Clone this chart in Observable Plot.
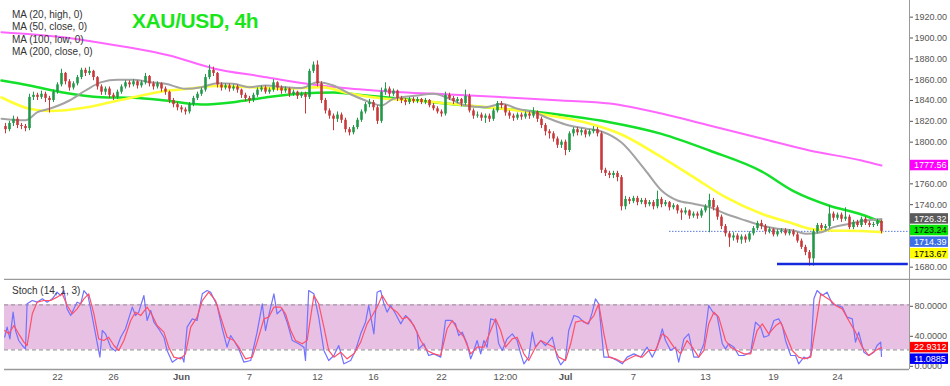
<!DOCTYPE html>
<html>
<head>
<meta charset="utf-8">
<script src="https://cdn.jsdelivr.net/npm/d3@7"></script>
<script src="https://cdn.jsdelivr.net/npm/@observablehq/plot@0.6"></script>
<style>
html, body { margin: 0; padding: 0; background: #fff; }
#wrap { position: relative; width: 950px; height: 386px; overflow: hidden; font-family: "Liberation Sans", Arial, sans-serif; }
#wrap svg { display: block; }
.legend { position: absolute; left: 12px; top: 9px; font-size: 10px; line-height: 12.4px; color: #333; white-space: pre; }
.title { position: absolute; left: 132px; top: 10px; font: bold 21px/21px "Liberation Sans", Arial, sans-serif; letter-spacing: -0.4px; color: #19e619; white-space: pre; }
.stochlbl { position: absolute; left: 12px; top: 285px; font-size: 10px; line-height: 12.4px; color: #333; white-space: pre; }
</style>
</head>
<body>
<div id="wrap"></div>
<script>
// ---------------- DATA ----------------
const firstOpen = 1815;
const closes = [
1812,1818,1822,1816,1815,1813,1843,1845,1843,1846,
1842,1840,1848,1855,1866,1858,1852,1856,1862,1869,
1866,1868,1862,1853,1848,1851,1845,1843,1848,1853,
1857,1855,1858,1854,1857,1863,1856,1853,1856,1851,
1848,1840,1836,1833,1831,1829,1836,1842,1846,1850,
1862,1869,1866,1855,1852,1854,1851,1853,1850,1845,
1842,1840,1845,1850,1852,1848,1850,1857,1852,1849,
1851,1846,1848,1844,1846,1843,1868,1874,1856,1840,
1830,1825,1822,1826,1821,1812,1809,1814,1821,1829,
1836,1838,1833,1820,1848,1851,1846,1849,1842,1840,
1838,1841,1839,1841,1838,1840,1835,1832,1829,1827,
1845,1842,1839,1841,1837,1844,1830,1825,1826,1823,
1825,1822,1830,1837,1835,1828,1825,1823,1826,1824,
1827,1825,1829,1822,1816,1810,1808,1803,1797,1800,
1792,1808,1812,1809,1811,1807,1810,1812,1808,1773,
1770,1768,1770,1766,1738,1745,1743,1746,1742,1744,
1740,1742,1738,1745,1740,1742,1737,1739,1734,1732,
1734,1729,1731,1729,1734,1738,1744,1737,1728,1719,
1712,1708,1710,1706,1709,1706,1712,1717,1722,1719,
1714,1716,1711,1714,1715,1712,1714,1711,1705,1699,
1694,1688,1714,1720,1717,1719,1731,1727,1730,1726,
1728,1718,1723,1720,1726,1722,1720,1721,1724,1714.39];
const highs = [
1818,1820,1825,1824,1818,1817,1846,1848,1847,1849,
1848,1844,1850,1857,1870,1867,1860,1858,1864,1871,
1871,1872,1869,1863,1855,1853,1853,1847,1850,1855,
1859,1859,1860,1859,1859,1866,1864,1858,1858,1857,
1853,1849,1842,1838,1835,1833,1838,1844,1848,1852,
1865,1874,1872,1867,1857,1856,1856,1855,1855,1851,
1847,1844,1847,1852,1854,1854,1852,1860,1858,1854,
1853,1852,1850,1849,1848,1848,1870,1877,1878,1858,
1842,1832,1827,1829,1828,1823,1814,1816,1823,1831,
1838,1841,1840,1835,1852,1857,1853,1851,1850,1844,
1842,1843,1843,1843,1842,1842,1841,1837,1834,1831,
1848,1847,1844,1843,1842,1850,1846,1832,1829,1828,
1827,1827,1832,1839,1839,1836,1830,1827,1828,1828,
1829,1829,1833,1830,1824,1818,1812,1810,1805,1802,
1802,1810,1814,1814,1813,1812,1812,1815,1814,1810,
1775,1772,1772,1772,1768,1748,1747,1748,1748,1746,
1746,1744,1744,1753,1747,1744,1743,1741,1740,1736,
1737,1735,1733,1733,1736,1740,1750,1746,1739,1730,
1721,1714,1713,1712,1711,1711,1714,1719,1724,1725,
1721,1718,1717,1716,1717,1717,1716,1716,1713,1707,
1701,1696,1716,1722,1722,1721,1739,1733,1732,1732,
1737,1730,1725,1725,1728,1728,1724,1723,1726,1725];
const lows = [
1808,1810,1815,1813,1812,1810,1811,1840,1840,1841,
1838,1828,1838,1846,1853,1855,1849,1850,1854,1860,
1863,1864,1859,1850,1845,1845,1842,1840,1841,1846,
1851,1852,1853,1851,1852,1855,1853,1850,1851,1848,
1845,1837,1833,1830,1828,1826,1827,1834,1840,1844,
1848,1860,1863,1852,1849,1850,1848,1849,1847,1842,
1839,1837,1838,1843,1848,1846,1846,1848,1849,1846,
1847,1843,1844,1841,1842,1827,1841,1866,1853,1837,
1827,1822,1811,1819,1818,1809,1806,1807,1812,1819,
1827,1833,1830,1817,1818,1845,1843,1844,1839,1837,
1835,1836,1837,1837,1836,1836,1833,1830,1827,1824,
1825,1840,1836,1837,1834,1835,1828,1822,1823,1820,
1818,1819,1820,1828,1832,1825,1822,1820,1821,1821,
1822,1822,1823,1819,1813,1806,1803,1800,1794,1794,
1787,1790,1805,1806,1806,1804,1805,1808,1805,1770,
1767,1765,1765,1762,1734,1735,1740,1741,1739,1740,
1737,1738,1735,1736,1737,1738,1734,1735,1731,1725,
1730,1726,1727,1726,1727,1732,1713,1734,1725,1716,
1709,1699,1705,1703,1702,1703,1704,1710,1715,1716,
1711,1712,1709,1709,1712,1710,1710,1709,1703,1697,
1691,1681,1681,1712,1715,1715,1717,1724,1725,1723,
1724,1716,1716,1718,1718,1720,1718,1718,1719,1712];

// moving averages: [candle index, value]
const ma200Close = [[-1,1905.6],[7,1903.4],[16,1900],[21,1897.1],[31,1890.9],[41,1883.2],[52,1870.8],[64,1863.1],[74,1856.8],[86,1851.5],[99,1848],[111,1845.8],[124,1843.2],[139,1840],[151,1837.1],[164,1827.5],[176,1816],[189,1803.5],[201,1792],[214,1782.4],[219,1777.56]];
const ma100Low = [[-1,1859.2],[6,1854.4],[14,1848],[24,1843.2],[32,1842.6],[40,1840],[49,1836.2],[57,1838.4],[65,1842.9],[74,1846.7],[82,1847.7],[90,1844.8],[99,1841.7],[107,1838.4],[115,1835.2],[124,1832],[132,1829.5],[140,1825.6],[151,1819.2],[164,1808],[176,1792],[189,1772],[197,1753],[206,1739],[214,1730.6],[219,1723.24]];
const ma50Close = [[-1,1842.9],[6,1832.1],[11,1829.9],[20,1833.3],[26,1838.1],[32,1843.2],[40,1849.1],[46,1851.3],[52,1853.9],[61,1852.8],[70,1851.3],[79,1852.8],[86,1846.8],[95,1841.7],[103,1840],[111,1836.9],[120,1833.6],[128,1830.4],[136,1825.6],[145,1818.9],[154,1807.4],[164,1785.6],[172,1766.4],[180,1747.2],[189,1731.3],[197,1721.7],[201,1716.9],[206,1715.2],[214,1714.7],[219,1713.67]];
const ma20High = [[-1,1822.5],[5,1821],[8,1828.8],[11,1832.1],[16,1840],[20,1849.6],[24,1857.6],[28,1859.9],[32,1859.9],[36,1857.6],[40,1856],[45,1851.3],[49,1852.8],[53,1856.6],[57,1856],[61,1852.8],[65,1854.4],[70,1852.8],[74,1852],[78,1857.6],[82,1854.4],[86,1846.5],[90,1840],[94,1835.2],[97,1841.7],[103,1844.8],[107,1846.5],[111,1841.7],[115,1835.2],[120,1833.6],[124,1836.9],[128,1832.1],[132,1828.8],[136,1822.5],[140,1817],[145,1813.1],[149,1810.3],[154,1799.7],[160,1772.8],[164,1753.6],[168,1744],[172,1740.9],[176,1737.6],[180,1731.3],[185,1724.8],[189,1720],[193,1716.9],[197,1715.2],[200,1712.1],[204,1713.6],[207,1718.4],[211,1721.7],[215,1724.8],[219,1726.32]];

// stochastic (14,1,3): [candle index, value]
const stochK = [[-0.2,36.8],[0.4,50.2],[1.1,34.6],[1.9,70.2],[2.5,45.7],[3.3,32.4],[4.2,25.7],[5,21.3],[5.4,81.3],[6.7,85.7],[7.9,83.5],[9.2,88],[10.4,83.5],[11.7,88],[12.9,96.8],[13.8,92.4],[14.6,99],[15.4,74.6],[16.3,65.7],[17.1,74.6],[17.9,83.5],[18.8,81.3],[19.6,99],[20.6,92.4],[21.3,74.6],[22.5,41.3],[23.6,10.2],[24.2,45.7],[25,41.3],[26.3,23.5],[27.5,18.2],[28.8,36.8],[30,48],[31.7,76.9],[32.5,65.7],[33.3,70.2],[34.6,92.4],[35.4,59.1],[36.3,72.4],[37.1,56.8],[38.3,48],[39.6,36.8],[40.4,19.1],[41.7,3.5],[42.9,8],[44.2,10.2],[44.6,3.5],[45.4,50.2],[46.7,61.3],[47.9,59.1],[49.2,94.6],[50.4,99],[51.3,96.8],[52.9,79.1],[54.2,48],[55.4,23.5],[56.3,39],[57.1,32.4],[58.3,21.3],[59.6,3.5],[61.3,5.7],[62.9,43.5],[64.2,81.3],[65,45.7],[65.8,65.7],[67.1,94.6],[67.9,68],[69.2,74.6],[70.4,56.8],[71.7,32.4],[73.3,28],[74.6,23.5],[75,5.7],[75.8,99],[77.1,94.6],[78.3,63.5],[79.6,19.1],[80.8,5.7],[82.1,12.4],[83.3,25.7],[84.6,1.3],[86.3,5.7],[87.5,19.1],[88.8,41.3],[90,56.8],[90.8,79.1],[92.1,41.3],[92.9,96.8],[93.8,99],[94.6,81.3],[95.4,70.2],[96.3,79.1],[97.5,68],[98.8,54.6],[100,65.7],[101.3,59.1],[102.9,43.5],[103.3,21.3],[104.6,28],[105.8,12.4],[107.1,14.6],[108.8,10.2],[110,59.1],[111.3,59.1],[112.5,54.6],[113.3,39],[114.2,43.5],[115.4,28],
[116.3,8],[117.1,19.1],[117.9,32.4],[118.8,14.6],[119.6,32.4],[120.4,23.5],[121.3,61.3],[122.5,59.1],[123.3,28],[124.2,19.1],[125.4,34.6],[126.7,41.3],[127.9,32.4],[128.8,14.6],[129.6,1.3],[130.8,10.2],[131.7,43.5],[132.5,23.5],[133.8,32.4],[135,25.7],[136.7,36.8],[137.9,10.2],[138.8,0],[140,8],[140.8,45.7],[142.1,65.7],[143.3,63.5],[144.6,56.8],[145.8,54.6],[146.7,70.2],[147.5,88],[148.3,81.3],[149.6,10.2],[151.3,10.2],[152.9,5.7],[154.2,1.3],[155.4,10.2],[157.1,14.6],[158.8,10.2],[160.4,23.5],[161.7,10.2],[162.9,23.5],[164.2,48],[165,32.4],[166.3,19.1],[167.5,23.5],[168.3,3.5],[169.6,34.6],[170.8,41.3],[172.1,10.2],[173.3,10.2],[174.6,28],[175.8,79.1],[177.1,68],[177.9,65.7],[179.2,28],[180,21.3],[180.8,28],[182.1,23.5],[183.3,12.4],[184.6,12.4],[186.3,16.8],[187.5,56.8],[188.8,50.2],[189.6,36.8],[190.8,39],[192.1,59.1],[193.3,61.3],[194.2,52.4],[195,32.4],[196.3,12.4],[197.5,12.4],[198.3,1.3],[199.6,10.2],[200.4,8],[201.3,12.4],[202.1,88],[202.9,99],[204.2,92.4],[205.4,96.8],[206.7,81.3],[207.9,79.1],[209.2,76.9],[210.4,63.5],[211.7,61.3],[212.5,30.2],[213.3,43.5],[214.6,16.8],[215.8,12.4],[217.1,16.8],[217.9,25.7],[218.8,30.2],[219,11.0885]];
const stochD = [[-0.2,45.7],[0.8,41.3],[2.1,52.4],[3.3,41.3],[4.6,30.2],[5.4,25.7],[6.7,68],[7.9,83.5],[9.6,85.7],[11.3,85.7],[12.9,90.2],[14.2,94.6],[15.4,79.1],[16.7,68],[17.9,74.6],[19.6,88],[20.8,94.6],[22.1,68],[23.3,34.6],[24.6,32.4],[25.8,36.8],[27.1,25.7],[28.3,19.1],[29.6,32.4],[31.3,59.1],[32.5,70.2],[33.8,65.7],[35.4,76.9],[36.7,65.7],[37.9,52.4],[39.6,43.5],[40.8,23.5],[42.1,10.2],[43.8,8],[45,14.6],[46.3,50.2],[47.9,63.5],[49.2,85.7],[50.8,96.8],[52.5,85.7],[53.8,63.5],[55.4,36.8],[57.1,32.4],[58.3,23.5],[60,8],[61.7,10.2],[62.9,30.2],[64.6,61.3],[65.8,63.5],[67.1,76.9],[68.8,76.9],[70,68],[71.3,45.7],[72.5,32.4],[74.2,28],[75.4,32.4],[77.1,92.4],[78.3,81.3],[79.6,50.2],[80.8,19.1],[82.1,10.2],[83.8,16.8],[85.4,8],[87.1,14.6],[88.8,30.2],[90.4,54.6],[91.7,65.7],[92.9,76.9],[94.2,92.4],[95.4,81.3],[96.7,74.6],[97.9,70.2],[99.2,61.3],[100.4,63.5],[102.1,52.4],[103.8,32.4],[105.4,19.1],[107.1,14.6],[108.8,12.4],[110.4,48],[111.7,59.1],[112.9,48],[114.6,36.8],
[116.3,14.6],[117.9,23.5],[119.6,23.5],[121.3,45.7],[122.5,61.3],[123.8,45.7],[125,23.5],[126.7,34.6],[127.9,36.8],[129.6,14.6],[130.8,5.7],[132.5,23.5],[133.8,32.4],[135.4,28],[137.1,23.5],[138.3,10.2],[140,5.7],[141.3,28],[142.5,56.8],[144.2,59.1],[145.4,54.6],[147.1,65.7],[148.3,81.3],[149.6,41.3],[150.8,10.2],[152.5,8],[154.2,3.5],[155.8,8],[157.5,12.4],[159.2,10.2],[160.8,19.1],[162.5,19.1],[164.2,41.3],[165.4,36.8],[167.1,23.5],[168.8,14.6],[170.4,32.4],[171.7,23.5],[173.3,10.2],[174.6,19.1],[175.8,54.6],[177.1,70.2],[178.3,63.5],[180,32.4],[181.3,23.5],[182.9,19.1],[184.6,14.6],[186.3,14.6],[187.9,45.7],[189.2,54.6],[190.8,41.3],[192.5,52],[193.8,56.8],[195,41.3],[196.7,19.1],[198.3,10.2],[199.6,8],[201.3,10.2],[202.5,50.2],[203.8,94.6],[205,90.2],[206.3,85.7],[207.5,79.1],[209.2,74.6],[210.8,59.1],[212.5,43.5],[214.2,23.5],[215.8,12.4],[217.5,19.1],[219,22.9312]];

const priceTicks = [1680,1700,1720,1740,1760,1780,1800,1820,1840,1860,1880,1900,1920];
const stochTicks = [0,40,80];
const stochLevels = [20,80];
const tickIdx = [13,27,44,61,78,92,109,125,140,157,175,192,208];
const tickLabels = ["22","26","Jun","7","12","16","22","12:00","Jul","7","13","19","24"];
const monthLabels = ["Jun","Jul"];
const priceTags = [1777.56, 1726.32, 1723.24, 1714.39, 1713.67];
const priceTagFill = ["#ff00ff","#5a5a5a","#00e600","#3d70e6","#ffff00"];
const priceTagInk = ["#ffffff","#ffffff","#000000","#ffffff","#000000"];
const stochTags = [22.9312, 11.0885];
const stochTagFill = ["#ff0000","#0000f5"];
const stochTagInk = ["#ffffff","#ffffff"];
const supportLevel = 1683;
const supportStartIdx = 193;
const bidLineStartIdx = 166;
const legendLines = ["MA (20, high, 0)","MA (50, close, 0)","MA (100, low, 0)","MA (200, close, 0)"];
const titleText = "XAU/USD, 4h";
const stochTitle = "Stoch (14, 1, 3)";

// ---------------- LAYOUT ----------------
const W = 950, MR = 41;
const xDomain = [-1.25, 226];
const mainH = 280, yDomain = [1667.2, 1936];
const stochH = 106, stochMB = 17, sDomain = [-6.27, 112.4];
const xs = d3.scaleLinear(xDomain, [0, W - MR]);
const ys = d3.scaleLinear(yDomain, [mainH, 0]);
const ss = d3.scaleLinear(sDomain, [stochH - stochMB, 0]);
const axisIdx = xDomain[1];
const leftIdx = xs.invert(4), farIdx = xs.invert(W);
const tagX1 = xs.invert(910), tagX2 = xs.invert(948), tagTx = xs.invert(913.5);

function layoutTags(values, scale, h, gap) {
  const order = values.map((v, i) => i).sort((a, b) => values[b] - values[a]);
  const pos = [];
  let prev = -Infinity;
  for (const i of order) { const p = Math.max(scale(values[i]), prev + gap); pos[i] = p; prev = p; }
  return values.map((v, i) => ({ v, i, px: pos[i], yc: scale.invert(pos[i]), y1: scale.invert(pos[i] - h / 2), y2: scale.invert(pos[i] + h / 2) }));
}

const GREEN = "#22994a", RED = "#c8383a";
const candles = closes.map((c, i) => ({ i, o: i === 0 ? firstOpen : closes[i - 1], c, h: highs[i], l: lows[i] }));
const cc = d => (d.c >= d.o ? GREEN : RED);
const pt = arr => arr.map(([x, y]) => ({ x, y }));

const mTags = layoutTags(priceTags, ys, 10.5, 11.6);
const sTags = layoutTags(stochTags, ss, 10.5, 11.6);
// tick labels that sit under a price tag are hidden, as in the reference
const shownPriceTicks = priceTicks.filter(t => mTags.every(g => Math.abs(ys(t) - g.px) > 9));

const baseStyle = { fontFamily: "Liberation Sans, Arial, sans-serif", fontSize: "9px", color: "#555", background: "transparent" };

const main = Plot.plot({
  width: W, height: mainH, marginLeft: 0, marginRight: MR, marginTop: 0, marginBottom: 0,
  style: baseStyle,
  x: { domain: xDomain, axis: null, label: null },
  y: { domain: yDomain, axis: null, label: null },
  marks: [
    Plot.ruleX([axisIdx], { stroke: "#999", strokeWidth: 1 }),
    Plot.ruleY([yDomain[0]], { x1: leftIdx, x2: farIdx, stroke: "#9a9a9a", strokeWidth: 1.5, dy: -1 }),
    Plot.ruleY([closes[closes.length - 1]], { x1: bidLineStartIdx, x2: axisIdx, stroke: "#5a78e0", strokeWidth: 1, strokeDasharray: "1.5,1.5" }),
    Plot.line(pt(ma200Close), { x: "x", y: "y", stroke: "#ff66ff", strokeWidth: 2, curve: "monotone-x" }),
    Plot.line(pt(ma100Low), { x: "x", y: "y", stroke: "#14e02a", strokeWidth: 2.5, curve: "monotone-x" }),
    Plot.line(pt(ma50Close), { x: "x", y: "y", stroke: "#ffff33", strokeWidth: 2.6, curve: "monotone-x" }),
    Plot.line(pt(ma20High), { x: "x", y: "y", stroke: "#a3a3a3", strokeWidth: 2, curve: "monotone-x" }),
    Plot.ruleX(candles, { x: "i", y1: "l", y2: "h", stroke: cc, strokeWidth: 1 }),
    Plot.ruleX(candles, { x: "i", y1: "o", y2: "c", stroke: cc, strokeWidth: 2.6 }),
    Plot.ruleY([supportLevel], { x1: supportStartIdx, x2: axisIdx - 0.3, stroke: "#1428dc", strokeWidth: 2.5 }),
    Plot.axisY(shownPriceTicks, { anchor: "right", tickSize: 3, tickPadding: 2, tickFormat: d => d.toFixed(2), fontSize: 9, label: null }),
    Plot.rect(mTags, { x1: () => tagX1, x2: () => tagX2, y1: "y1", y2: "y2", fill: d => priceTagFill[d.i] }),
    Plot.text(mTags, { x: () => tagTx, y: "yc", text: d => d.v.toFixed(2), fill: d => priceTagInk[d.i], textAnchor: "start", fontSize: 9 })
  ]
});

const stoch = Plot.plot({
  width: W, height: stochH, marginLeft: 0, marginRight: MR, marginTop: 0, marginBottom: stochMB,
  style: baseStyle,
  x: { domain: xDomain, axis: null, label: null },
  y: { domain: sDomain, axis: null, label: null },
  marks: [
    Plot.rect([stochLevels], { x1: () => leftIdx, x2: () => axisIdx, y1: d => d[0], y2: d => d[1], fill: "#e8c0e4" }),
    Plot.ruleY(stochLevels, { x1: leftIdx, x2: axisIdx, stroke: "#a09aa0", strokeWidth: 1.2, strokeDasharray: "4,3" }),
    Plot.ruleY([sDomain[0]], { x1: leftIdx, x2: axisIdx, stroke: "#9a9a9a", strokeWidth: 1.5 }),
    Plot.ruleX([axisIdx], { stroke: "#999", strokeWidth: 1 }),
    Plot.line(pt(stochK), { x: "x", y: "y", stroke: "#7272ff", strokeWidth: 1.2 }),
    Plot.line(pt(stochD), { x: "x", y: "y", stroke: "#ff5068", strokeWidth: 1.2 }),
    Plot.axisY(stochTicks, { anchor: "right", tickSize: 3, tickPadding: 2, tickFormat: d => d.toFixed(4), fontSize: 9, label: null, dy: 1.5 }),
    Plot.axisX(tickIdx, { anchor: "bottom", tickSize: 0, tickPadding: 4, tickFormat: d => tickLabels[tickIdx.indexOf(d)], fontSize: 9.5, label: null }),
    Plot.rect(sTags, { x1: () => tagX1, x2: () => tagX2, y1: "y1", y2: "y2", fill: d => stochTagFill[d.i] }),
    Plot.text(sTags, { x: () => tagTx, y: "yc", text: d => d.v.toFixed(4), fill: d => stochTagInk[d.i], textAnchor: "start", fontSize: 9 })
  ]
});

d3.select(stoch).selectAll("text").filter(function () { return monthLabels.includes(this.textContent); }).attr("font-weight", "bold");

const wrap = document.getElementById("wrap");
wrap.appendChild(main);
wrap.appendChild(stoch);
const lg = document.createElement("div"); lg.className = "legend"; lg.textContent = legendLines.join("\n"); wrap.appendChild(lg);
const tt = document.createElement("div"); tt.className = "title"; tt.textContent = titleText; wrap.appendChild(tt);
const sl = document.createElement("div"); sl.className = "stochlbl"; sl.textContent = stochTitle; wrap.appendChild(sl);
</script>
</body>
</html>
